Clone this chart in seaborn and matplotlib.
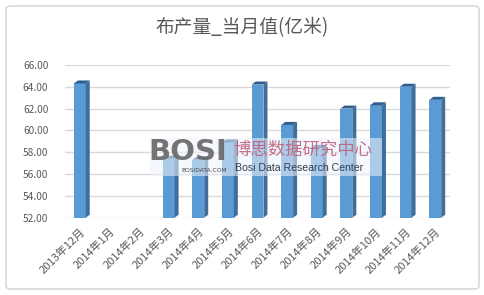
import numpy as np
import pandas as pd
import matplotlib
matplotlib.use("Agg")
import matplotlib.pyplot as plt
from matplotlib.patches import Polygon, FancyBboxPatch
import seaborn as sns

categories = ["2013年12月", "2014年1月", "2014年2月", "2014年3月", "2014年4月",
              "2014年5月", "2014年6月", "2014年7月", "2014年8月", "2014年9月",
              "2014年10月", "2014年11月", "2014年12月"]
values = [64.3, np.nan, np.nan, 57.4, 57.3, 58.9, 64.2, 60.5, 58.4, 62.0, 62.3, 64.0, 62.8]
yticks = [52, 54, 56, 58, 60, 62, 64, 66]
title = "布产量_当月值(亿米)"

sns.set_theme(style="white")
plt.rcParams['font.family'] = ['Noto Sans CJK SC', 'DejaVu Sans']

df = pd.DataFrame({"month": categories, "value": values})

fig = plt.figure(figsize=(4.85, 2.95), dpi=100)
ax = fig.add_axes([0.134, 0.262, 0.794, 0.518])

sns.barplot(data=df, x="month", y="value", color="#5B9BD5", saturation=1,
            width=0.4, ax=ax, zorder=3, linewidth=0)

ax.set_ylim(52, 66)
ax.set_xlim(-0.5, len(categories) - 0.5)
ax.set_yticks(yticks)
ax.set_yticklabels([f"{v:.2f}" for v in yticks], fontsize=7.3, color="#595959")
ax.set_xticks(range(len(categories)))
ax.set_xticklabels(categories, rotation=45, ha="right", rotation_mode="anchor",
                   fontsize=8, color="#595959")
ax.tick_params(axis="x", pad=6, length=0)
ax.tick_params(axis="y", pad=12, length=0)
ax.set_xlabel("")
ax.set_ylabel("")
for s in ax.spines.values():
    s.set_visible(False)
ax.yaxis.grid(True, color="#D9D9D9", linewidth=1, zorder=0)
ax.set_axisbelow(True)

# pseudo-3D depth derived from the drawn bars
fig.canvas.draw()
bbox = ax.get_window_extent()
dx = 4 * (ax.get_xlim()[1] - ax.get_xlim()[0]) / bbox.width
dy = 3 * (ax.get_ylim()[1] - ax.get_ylim()[0]) / bbox.height
for p in list(ax.patches):
    h = p.get_height()
    if not np.isfinite(h) or h <= 0:
        continue
    x0 = p.get_x()
    w = p.get_width()
    y0 = 52
    y1 = h
    side = Polygon([(x0 + w, y0), (x0 + w, y1), (x0 + w + dx, y1 + dy), (x0 + w + dx, y0 + dy)],
                   closed=True, facecolor="#3F6E9C", edgecolor="none", zorder=3)
    top = Polygon([(x0, y1), (x0 + w, y1), (x0 + w + dx, y1 + dy), (x0 + dx, y1 + dy)],
                  closed=True, facecolor="#2F5F8F", edgecolor="none", zorder=3)
    ax.add_patch(side)
    ax.add_patch(top)

fig.text(0.5, 0.908, title, ha="center", va="center", fontsize=13.5, color="#595959")

# frame
fig.patches.append(FancyBboxPatch((6 / 485, 6 / 295), 473 / 485, 283 / 295,
                                  boxstyle="round,pad=0,rounding_size=0.01",
                                  transform=fig.transFigure, facecolor="none",
                                  edgecolor="#D0D0D0", linewidth=1))

# watermark
fig.patches.append(FancyBboxPatch((150 / 485, 1 - 176 / 295), 232 / 485, 38 / 295,
                                  boxstyle="square,pad=0", transform=fig.transFigure,
                                  facecolor="#EEF3FA", edgecolor="none", alpha=0.55, zorder=5))
fig.text(148 / 485, 1 - 152 / 295, "BOSI", fontsize=21, fontweight="bold", color="#666666",
         alpha=0.9, ha="left", va="center", family="DejaVu Sans", zorder=6)
fig.text(181 / 485, 1 - 170 / 295, "BOSIDATA.COM", fontsize=4.3, color="#444444",
         ha="left", va="center", family="DejaVu Sans", zorder=6)
fig.text(233 / 485, 1 - 150 / 295, "博思数据研究中心", fontsize=12.5, color="#C0607E",
         alpha=0.9, ha="left", va="center", zorder=6)
fig.text(235 / 485, 1 - 168 / 295, "Bosi Data Research Center", fontsize=7.6, color="#2F3F55",
         ha="left", va="center", family="Liberation Sans", zorder=6)

fig.savefig("out.png", dpi=100, facecolor="white")
